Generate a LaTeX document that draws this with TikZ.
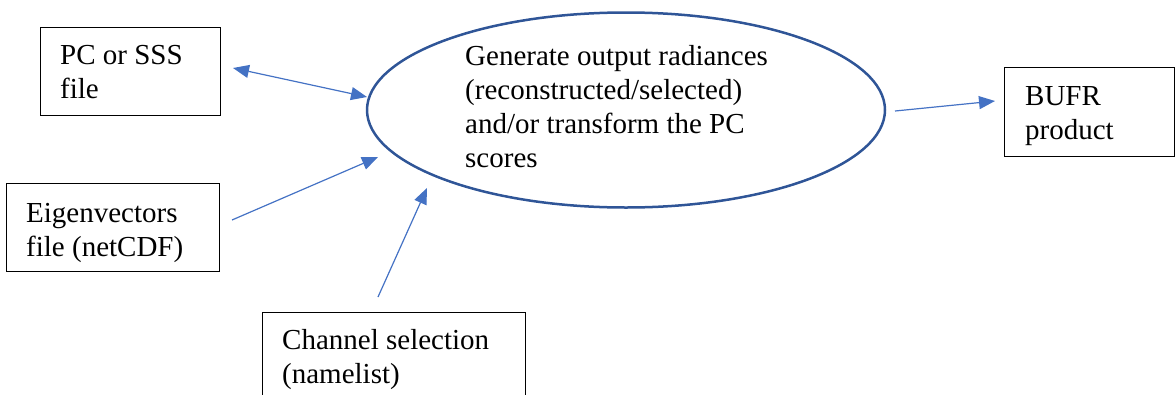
\documentclass[tikz,border=0pt]{standalone}
\usepackage{fontspec}
\setmainfont{Liberation Serif}
\usetikzlibrary{shapes.geometric,arrows.meta}
\definecolor{arrc}{HTML}{4472C4}
\definecolor{ellc}{HTML}{2F5597}
\begin{document}
\begin{tikzpicture}[x=1pt,y=-1pt,
  boxnode/.style={draw=black,line width=1.3pt,inner sep=0pt,anchor=north west},
  lbl/.style={font=\fontsize{29}{34}\selectfont,align=left,inner sep=0pt,anchor=base west},
  conn/.style={draw=arrc,line width=1.2pt,-{Triangle[length=16pt,width=13pt]}},
  conn2/.style={draw=arrc,line width=1.2pt,{Triangle[length=16pt,width=13pt]}-{Triangle[length=16pt,width=13pt]}}]
\useasboundingbox (0,0) rectangle (1176,394);
% boxes (text nodes anchored at the baseline of their last line)
\node[boxnode,minimum width=180pt,minimum height=88pt] (pc) at (40,27) {};
\node[lbl] (pct) at (60,98) {PC or SSS\\file};
\node[boxnode,minimum width=213pt,minimum height=88pt] (eig) at (6,183) {};
\node[lbl] (eigt) at (26,256) {Eigenvectors\\file (netCDF)};
\node[boxnode,minimum width=263pt,minimum height=120pt] (chan) at (262,312) {};
\node[lbl] (chant) at (282,383) {Channel selection\\(namelist)};
\node[boxnode,minimum width=170pt,minimum height=89pt] (bufr) at (1004,67) {};
\node[lbl] (bufrt) at (1025,139) {BUFR\\product};
% ellipse
\node[draw=ellc,line width=2.5pt,ellipse,minimum width=518pt,minimum height=195pt,inner sep=0pt] (gen) at (626,110) {};
\node[lbl] (gent) at (465,167) {Generate output radiances\\(reconstructed/selected)\\and/or transform the PC\\scores};
% arrow ends
\coordinate (pcA) at (233,68);
\coordinate (pcB) at (367,97);
\coordinate (eigA) at (232,220);
\coordinate (eigB) at (378,157);
\coordinate (chA) at (378,297);
\coordinate (chB) at (427,188);
\coordinate (bfA) at (895,111);
\coordinate (bfB) at (995,101);
\draw[conn2] (pcA) -- (pcB);
\draw[conn] (eigA) -- (eigB);
\draw[conn] (chA) -- (chB);
\draw[conn] (bfA) -- (bfB);
\end{tikzpicture}
\end{document}
